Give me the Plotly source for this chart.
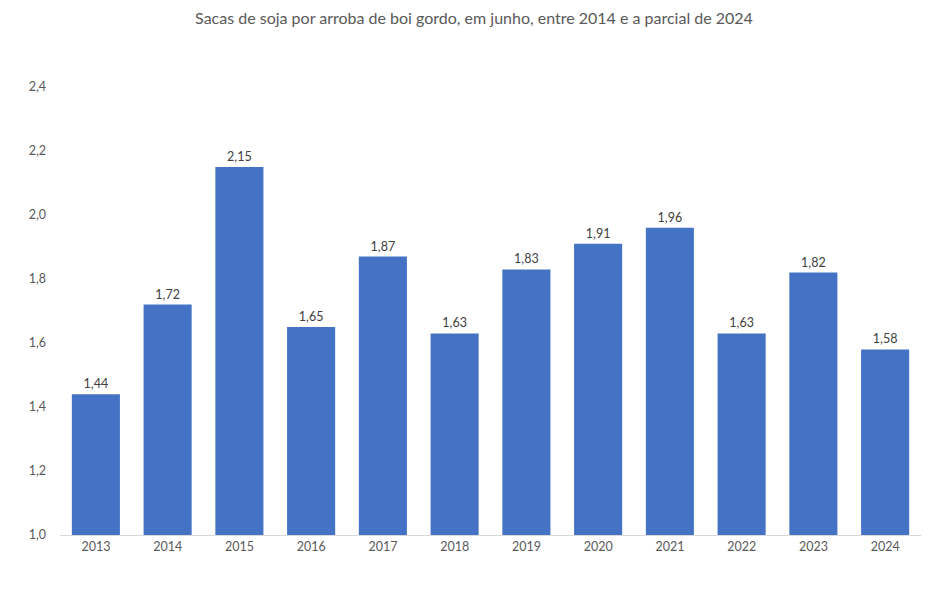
import plotly.graph_objects as go

years = ["2013", "2014", "2015", "2016", "2017", "2018", "2019", "2020", "2021", "2022", "2023", "2024"]
values = [1.44, 1.72, 2.15, 1.65, 1.87, 1.63, 1.83, 1.91, 1.96, 1.63, 1.82, 1.58]
y_ticks = [1.0, 1.2, 1.4, 1.6, 1.8, 2.0, 2.2, 2.4]
title = "Sacas de soja por arroba de boi gordo, em junho, entre 2014 e a parcial de 2024"

FONT = "Lato, 'Open Sans', sans-serif"

fig = go.Figure(go.Bar(
    x=years, y=values,
    marker=dict(color="#4472C4", line=dict(width=0)),
    texttemplate="%{y:.2f}", textposition="outside",
    textfont=dict(size=12.5, color="#404040", family=FONT),
    cliponaxis=False,
))

fig.update_layout(
    width=948, height=589,
    margin=dict(l=60, r=27, t=87, b=54),
    paper_bgcolor="white", plot_bgcolor="white",
    separators=",.",
    bargap=0.33,
    showlegend=False,
    title=dict(text=title, x=0.5, xanchor="center", y=0.968, yanchor="middle",
               font=dict(size=16, color="#595959", family=FONT)),
    font=dict(family=FONT),
    xaxis=dict(showline=True, linecolor="#D9D9D9", linewidth=1, ticks="",
               tickfont=dict(size=12.5, color="#595959", family=FONT), showgrid=False),
    yaxis=dict(range=[1.0, 2.4], tickvals=y_ticks, tickformat=".1f", showgrid=False,
               zeroline=False, showline=False, ticks="", ticklabelstandoff=13,
               tickfont=dict(size=12.5, color="#595959", family=FONT)),
)

fig.write_html("out.html")
